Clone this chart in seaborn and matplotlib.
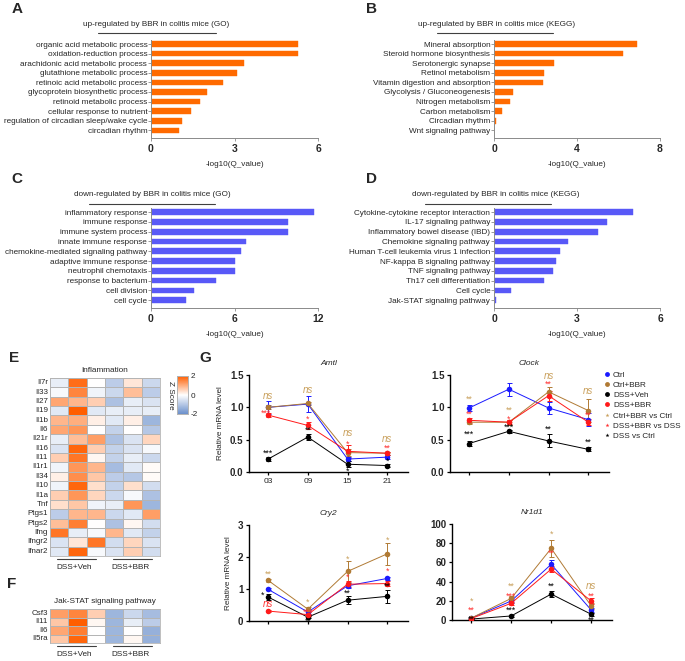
import numpy as np
import pandas as pd
import matplotlib
matplotlib.use("Agg")
import matplotlib.pyplot as plt
import matplotlib.transforms as mtransforms
import seaborn as sns
from matplotlib.colors import LinearSegmentedColormap
from matplotlib.lines import Line2D

# ---- data: enrichment bars ----
go_up_terms = ["organic acid metabolic process", "oxidation-reduction process",
               "arachidonic acid metabolic process", "glutathione metabolic process",
               "retinoic acid metabolic process", "glycoprotein biosynthetic process",
               "retinoid metabolic process", "cellular response to nutrient",
               "regulation of circadian sleep/wake cycle", "circadian rhythm"]
go_up_vals = [5.28, 5.27, 3.35, 3.1, 2.59, 2.01, 1.76, 1.42, 1.12, 1.01]

kegg_up_terms = ["Mineral absorption", "Steroid hormone biosynthesis", "Serotonergic synapse",
                 "Retinol metabolism", "Vitamin digestion and absorption",
                 "Glycolysis / Gluconeogenesis", "Nitrogen metabolism", "Carbon metabolism",
                 "Circadian rhythm", "Wnt signaling pathway"]
kegg_up_vals = [6.88, 6.23, 2.88, 2.43, 2.36, 0.92, 0.76, 0.39, 0.08, 0.0]

go_down_terms = ["inflammatory response", "immune response", "immune system process",
                 "innate immune response", "chemokine-mediated signaling pathway",
                 "adaptive immune response", "neutrophil chemotaxis", "response to bacterium",
                 "cell division", "cell cycle"]
go_down_vals = [11.73, 9.86, 9.86, 6.83, 6.44, 6.06, 6.06, 4.66, 3.08, 2.5]

kegg_down_terms = ["Cytokine-cytokine receptor interaction", "IL-17 signaling pathway",
                   "Inflammatory bowel disease (IBD)", "Chemokine signaling pathway",
                   "Human T-cell leukemia virus 1 infection", "NF-kappa B signaling pathway",
                   "TNF signaling pathway", "Th17 cell differentiation", "Cell cycle",
                   "Jak-STAT signaling pathway"]
kegg_down_vals = [5.04, 4.07, 3.77, 2.69, 2.40, 2.23, 2.13, 1.82, 0.61, 0.07]

# ---- data: heatmaps (z scores) ----
infl_genes = ["Il7r", "Il33", "Il27", "Il19", "Il1b", "Il6", "Il21r", "Il16", "Il11", "Il1r1",
              "Il34", "Il10", "Il1a", "Tnf", "Ptgs1", "Ptgs2", "Ifng", "Ifngr2", "Ifnar2"]
infl_z = [[-0.3, 1.8, 0.0, -0.9, 0.3, -0.7],
          [-0.1, 1.5, -0.2, -0.7, 0.8, -0.9],
          [1.1, 0.9, 0.6, -1.1, -0.3, -0.5],
          [-0.4, 2.2, -0.4, -0.3, -0.3, -0.3],
          [0.9, 1.0, 0.2, -0.4, 0.2, -1.3],
          [1.1, 1.3, 0.0, -0.8, 0.0, -1.0],
          [-0.3, 0.8, 1.2, -1.1, -0.5, 0.5],
          [-0.5, 1.9, 0.6, -0.8, -0.5, -0.1],
          [0.6, 1.7, 0.1, -0.8, -0.3, -0.7],
          [-0.2, 1.3, 0.9, -1.2, -0.4, 0.05],
          [0.2, 1.4, 0.7, -0.9, -1.0, 0.05],
          [-0.2, 1.9, 0.4, -0.8, 0.4, -0.6],
          [0.6, 1.3, 0.5, -0.7, -0.1, -1.1],
          [0.4, 0.7, -0.2, -0.3, 1.3, -1.3],
          [-0.9, 0.9, 0.9, -0.7, -0.4, 1.2],
          [0.8, 1.6, 0.0, -1.1, 0.1, -0.6],
          [1.7, -0.3, -0.1, 0.9, -0.4, -0.8],
          [-0.5, 0.3, 1.7, -0.6, 0.5, -0.5],
          [-0.4, 1.9, -0.1, -0.5, 0.6, -0.6]]
jak_genes = ["Csf3", "Il11", "Il6", "Il5ra"]
jak_z = [[1.2, 1.5, 0.6, -1.3, -0.7, -1.2],
         [0.7, 2.0, 0.1, -1.3, -0.3, -0.9],
         [1.1, 1.6, 0.0, -1.3, 0.0, -1.4],
         [0.7, 1.9, 0.0, -1.3, 0.1, -1.4]]
samples = ["Veh1", "Veh2", "Veh3", "BBR1", "BBR2", "BBR3"]

# ---- data: qPCR time courses ----
times = ["03", "09", "15", "21"]
groups = ["Ctrl", "Ctrl+BBR", "DSS+Veh", "DSS+BBR"]
amtl_mean = {"Ctrl": [1.0, 1.05, 0.2, 0.23], "Ctrl+BBR": [1.0, 1.06, 0.3, 0.29],
             "DSS+Veh": [0.2, 0.54, 0.12, 0.1], "DSS+BBR": [0.88, 0.72, 0.32, 0.29]}
amtl_sem = {"Ctrl": [0.1, 0.12, 0.03, 0.03], "Ctrl+BBR": [0.03, 0.03, 0.05, 0.02],
            "DSS+Veh": [0.03, 0.04, 0.05, 0.03], "DSS+BBR": [0.03, 0.05, 0.1, 0.02]}
clock_mean = {"Ctrl": [0.99, 1.28, 0.99, 0.81], "Ctrl+BBR": [0.77, 0.77, 1.24, 0.95],
              "DSS+Veh": [0.44, 0.63, 0.48, 0.35], "DSS+BBR": [0.8, 0.77, 1.18, 0.77]}
clock_sem = {"Ctrl": [0.05, 0.1, 0.1, 0.1], "Ctrl+BBR": [0.03, 0.04, 0.08, 0.18],
             "DSS+Veh": [0.04, 0.02, 0.1, 0.03], "DSS+BBR": [0.04, 0.03, 0.08, 0.05]}
cry2_mean = {"Ctrl": [0.99, 0.28, 1.1, 1.33], "Ctrl+BBR": [1.27, 0.37, 1.55, 2.1],
             "DSS+Veh": [0.75, 0.12, 0.65, 0.77], "DSS+BBR": [0.31, 0.2, 1.15, 1.17]}
cry2_sem = {"Ctrl": [0.03, 0.05, 0.08, 0.05], "Ctrl+BBR": [0.05, 0.08, 0.33, 0.35],
            "DSS+Veh": [0.1, 0.04, 0.13, 0.2], "DSS+BBR": [0.03, 0.03, 0.1, 0.08]}
nr1d1_mean = {"Ctrl": [2, 19.8, 58, 10.4], "Ctrl+BBR": [2, 22.5, 74.6, 14.6],
              "DSS+Veh": [1, 4.2, 27, 6], "DSS+BBR": [1.5, 17.4, 53, 19.8]}
nr1d1_sem = {"Ctrl": [0.5, 2, 5, 2], "Ctrl+BBR": [0.5, 2, 9, 3],
             "DSS+Veh": [0.3, 1, 3, 1.5], "DSS+BBR": [0.5, 1.5, 3, 3]}

# significance marks: (time index, y, text, comparison)
amtl_sig = [(0, 1.1, "ns", "bbr"), (1, 1.19, "ns", "bbr"), (2, 0.52, "ns", "bbr"), (3, 0.44, "ns", "bbr"),
            (-0.05, 0.84, "***", "dss_bbr"), (1, 0.75, "*", "dss_bbr"), (2, 0.36, "*", "dss_bbr"), (3, 0.3, "**", "dss_bbr"),
            (0, 0.22, "***", "dss"), (1, 0.57, "**", "dss"), (2, -0.06, "*", "dss"), (3, 0.1, "*", "dss")]
clock_sig = [(0, 1.05, "**", "bbr"), (1, 0.89, "**", "bbr"), (2, 1.41, "ns", "bbr"), (3, 1.17, "ns", "bbr"),
             (0, 0.82, "**", "dss_bbr"), (1, 0.75, "*", "dss_bbr"), (2, 1.28, "**", "dss_bbr"), (3, 0.81, "**", "dss_bbr"),
             (0, 0.51, "***", "dss"), (1, 0.63, "***", "dss"), (2, 0.59, "**", "dss"), (3, 0.39, "**", "dss")]
cry2_sig = [(0, 1.33, "**", "bbr"), (1, 0.44, "*", "bbr"), (2, 1.78, "*", "bbr"), (3, 2.38, "*", "bbr"),
            (0, 0.37, "ns", "dss_bbr"), (1, 0.14, "***", "dss_bbr"), (2, 1.23, "*", "dss_bbr"), (3, 1.41, "*", "dss_bbr"),
            (-0.14, 0.66, "*", "dss"), (1, -0.16, "**", "dss"), (2, 0.74, "**", "dss"), (3, 0.94, "**", "dss")]
nr1d1_sig = [(0, 15, "*", "bbr"), (1, 30, "**", "bbr"), (2, 85, "*", "bbr"), (3, 30, "ns", "bbr"),
             (0, 5.5, "**", "dss_bbr"), (1, 20.5, "***", "dss_bbr"), (2, 65, "**", "dss_bbr"), (3, 20.5, "**", "dss_bbr"),
             (0, -4, "**", "dss"), (1, 6, "***", "dss"), (2, 30, "**", "dss"), (3, -5, "**", "dss")]

# ---- style ----
sns.set_theme(style="ticks")
plt.rcParams["font.family"] = ["Liberation Sans", "DejaVu Sans"]

W, H = 685, 661
fig = plt.figure(figsize=(W / 100, H / 100), dpi=100)


def rect(x0, y0, x1, y1):
    return [x0 / W, 1 - y1 / H, (x1 - x0) / W, (y1 - y0) / H]


def ftext(x, y, s, **kw):
    fig.text(x / W, 1 - y / H, s, **kw)


def fline(x0, x1, y, color="#404040", lw=0.8):
    fig.add_artist(Line2D([x0 / W, x1 / W], [1 - y / H, 1 - y / H],
                          transform=fig.transFigure, color=color, lw=lw))


# panel letters
for letter, (px, py) in {"A": (17, 9), "B": (371, 9), "C": (17, 179), "D": (371, 179),
                         "E": (14, 358), "F": (12, 584), "G": (205, 358)}.items():
    ftext(px, py, letter, fontsize=11, fontweight="bold", ha="center", va="center")

orange = "#ff6a00"
blue_bar = "#5858f7"
spine_grey = "#8a8a8a"


def bar_panel(box, terms, vals, color, xmax, title, title_xy, uline):
    ax = fig.add_axes(rect(*box))
    sns.barplot(x=vals, y=terms, orient="h", color=color, width=0.58,
                edgecolor=color, linewidth=0.3, ax=ax, saturation=1)
    ax.set_xlim(0, xmax)
    ax.set_ylim(9.8, -0.42)
    ax.set_xticks([0, xmax / 2, xmax])
    ax.set_xticklabels([f"{v:g}" for v in [0, xmax / 2, xmax]], fontsize=7.5, fontweight="bold")
    ax.tick_params(axis="y", labelsize=5.85, length=2.2, width=0.6, color=spine_grey, pad=0.5)
    ax.tick_params(axis="x", length=2.5, width=0.6, color=spine_grey, pad=1.5)
    ax.set_ylabel("")
    ax.set_xlabel("-log10(Q_value)", fontsize=5.9, labelpad=5)
    for s in ["top", "right"]:
        ax.spines[s].set_visible(False)
    for s in ["left", "bottom"]:
        ax.spines[s].set_color(spine_grey)
        ax.spines[s].set_linewidth(0.7)
    ftext(title_xy[0], title_xy[1], title, fontsize=5.9, ha="center", va="center")
    fline(uline[0], uline[1], uline[2])
    return ax


bar_panel((151, 40, 318, 138), go_up_terms, go_up_vals, orange, 6,
          "up-regulated by BBR in colitis mice (GO)", (156, 24), (98, 216, 33))
bar_panel((494, 40, 660, 138), kegg_up_terms, kegg_up_vals, orange, 8,
          "up-regulated by BBR in colitis mice (KEGG)", (497, 24), (437, 553, 33))
bar_panel((151, 208, 318, 308), go_down_terms, go_down_vals, blue_bar, 12,
          "down-regulated by BBR in colitis mice (GO)", (152, 195), (89, 215, 204))
bar_panel((494, 208, 660, 308), kegg_down_terms, kegg_down_vals, blue_bar, 6,
          "down-regulated by BBR in colitis mice (KEGG)", (496, 195), (425, 551, 204))

# ---- heatmaps ----
zmap = LinearSegmentedColormap.from_list("z", ["#6a8fcb", "#ffffff", "#ff5e00"])


def style_heatmap(ax, title):
    ax.tick_params(axis="y", length=0, labelsize=5.8, pad=1.5, rotation=0)
    ax.set_ylabel("")
    ax.set_title(title, fontsize=5.9, pad=4)
    for s in ax.spines.values():
        s.set_visible(True)
        s.set_color("#b4b4b4")
        s.set_linewidth(0.6)
    off = mtransforms.ScaledTranslation(0, -2.2 / 72, fig.dpi_scale_trans)
    for (a, b), lab in zip([(0.064, 0.418), (0.573, 0.927)], ["DSS+Veh", "DSS+BBR"]):
        ax.plot([a, b], [0, 0], transform=ax.transAxes + off, color="#404040", lw=0.8,
                clip_on=False)
        ax.annotate(lab, xy=((a + b) / 2 - 0.02, 0), xycoords="axes fraction",
                    xytext=(0, -6), textcoords="offset points", ha="center", va="top",
                    fontsize=5.9, annotation_clip=False)


axE = fig.add_axes(rect(50, 378, 160, 556))
caxE = fig.add_axes(rect(177, 376, 188, 414))
infl_df = pd.DataFrame(infl_z, index=infl_genes, columns=samples)
sns.heatmap(infl_df, cmap=zmap, vmin=-2, vmax=2, linewidths=0.5, linecolor="#b4b4b4",
            xticklabels=False, yticklabels=True, cbar_ax=caxE, ax=axE)
style_heatmap(axE, "Inflammation")
caxE.set_yticks([-2, 0, 2])
caxE.set_yticklabels(["-2", "0", "2"])
caxE.tick_params(labelsize=5.9, length=0, pad=2)
caxE.yaxis.set_label_position("left")
caxE.set_ylabel("Z Score", rotation=270, fontsize=5.9, labelpad=7)
for s in caxE.spines.values():
    s.set_visible(True)
    s.set_color("#b4b4b4")
    s.set_linewidth(0.6)

axF = fig.add_axes(rect(50, 609, 160, 643))
jak_df = pd.DataFrame(jak_z, index=jak_genes, columns=samples)
sns.heatmap(jak_df, cmap=zmap, vmin=-2, vmax=2, linewidths=0.5, linecolor="#b4b4b4",
            xticklabels=False, yticklabels=True, cbar=False, ax=axF)
style_heatmap(axF, "Jak-STAT signaling pathway")

# ---- qPCR panels ----
line_colors = {"Ctrl": "#1a1aff", "Ctrl+BBR": "#b07a34", "DSS+Veh": "#000000", "DSS+BBR": "#ff1a1a"}
sig_colors = {"bbr": "#c9a05c", "dss_bbr": "#ff3030", "dss": "#000000"}


def qpcr_panel(box, gene, means, sems, ymax, ystep, fmt, sigs, xlabels, ylabel):
    ax = fig.add_axes(rect(*box))
    x = np.arange(len(times))
    for g in groups:
        sns.lineplot(x=x, y=means[g], color=line_colors[g], lw=0.7, marker="o",
                     markersize=4, markeredgewidth=0, ax=ax, zorder=3)
        ax.errorbar(x, means[g], yerr=sems[g], fmt="none", ecolor=line_colors[g],
                    elinewidth=0.7, capsize=1.8, capthick=0.7, zorder=2)
    for xi, yv, txt, key in sigs:
        if txt == "ns":
            ax.text(xi, yv, txt, color=sig_colors[key], fontsize=7, style="italic",
                    ha="center", va="bottom")
        else:
            ax.text(xi, yv, txt, color=sig_colors[key], fontsize=6.3, ha="center", va="bottom")
    ax.set_xlim(-0.48, 3.52)
    ax.set_ylim(0, ymax)
    ax.set_yticks(np.arange(0, ymax + ystep / 2, ystep))
    ax.set_yticklabels([fmt.format(v) for v in np.arange(0, ymax + ystep / 2, ystep)],
                       fontsize=7, fontweight="bold")
    ax.set_xticks(x)
    ax.set_xticklabels(times if xlabels else [], fontsize=6)
    ax.tick_params(length=2.5, width=0.9, color="black", pad=1.5)
    for s in ["top", "right"]:
        ax.spines[s].set_visible(False)
    for s in ["left", "bottom"]:
        ax.spines[s].set_linewidth(1.0)
        ax.spines[s].set_color("black")
    ax.set_title(gene, fontsize=6, style="italic", pad=7)
    if ylabel:
        ax.set_ylabel("Relative mRNA level", fontsize=5.9, labelpad=4)
    return ax


qpcr_panel((249, 375, 408, 472), "Amtl", amtl_mean, amtl_sem, 1.5, 0.5, "{:.1f}", amtl_sig, True, True)
qpcr_panel((450, 375, 609, 472), "Clock", clock_mean, clock_sem, 1.5, 0.5, "{:.1f}", clock_sig, False, False)
qpcr_panel((249, 525, 408, 621), "Cry2", cry2_mean, cry2_sem, 3, 1, "{:.0f}", cry2_sig, False, True)
qpcr_panel((452, 524, 612, 620), "Nr1d1", nr1d1_mean, nr1d1_sem, 100, 20, "{:.0f}", nr1d1_sig, False, False)

handles = [Line2D([], [], ls="none", marker="o", markersize=3.5, markeredgewidth=0,
                  color=line_colors[g], label=g) for g in groups]
handles += [Line2D([], [], ls="none", marker="*", markersize=3, markeredgewidth=0,
                   color=sig_colors[k], label=lab)
            for k, lab in [("bbr", "Ctrl+BBR vs Ctrl"), ("dss_bbr", "DSS+BBR vs DSS"),
                           ("dss", "DSS vs Ctrl")]]
fig.legend(handles=handles, loc="upper left", bbox_to_anchor=(604 / W, 1 - 371 / H),
           frameon=False, fontsize=5.9, handlelength=0.8, handletextpad=0.3,
           labelspacing=0.3, borderpad=0, borderaxespad=0)

fig.savefig("out.png", dpi=100)
